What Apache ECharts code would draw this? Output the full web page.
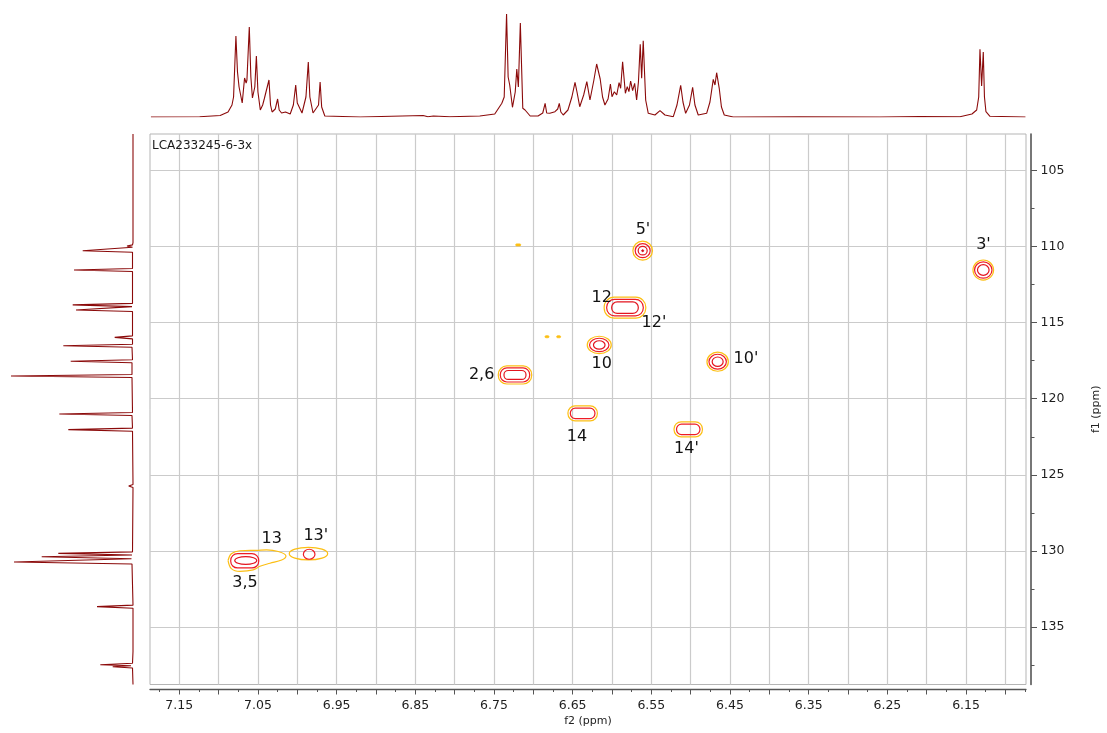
<!DOCTYPE html>
<html>
<head>
<meta charset="utf-8">
<title>HSQC LCA233245-6-3x</title>
<script src="https://cdn.jsdelivr.net/npm/echarts@6.0.0/dist/echarts.min.js"></script>
<style>
html,body{margin:0;padding:0;background:#ffffff;}
#chart{width:1107px;height:733px;}
</style>
</head>
<body>
<div id="chart"></div>
<script>
// ---------------- data ----------------
const sampleName = 'LCA233245-6-3x';
const f2Name = 'f2 (ppm)';
const f1Name = 'f1 (ppm)';

const f2TickLabels = ['7.15','7.05','6.95','6.85','6.75','6.65','6.55','6.45','6.35','6.25','6.15'];
const f1TickLabels = ['105','110','115','120','125','130','135'];

// 1H projection (f2 ppm, intensity)
const protonPpm = [7.186,7.124,7.098,7.088,7.083,7.081,7.078,7.076,7.074,7.070,7.067,7.065,7.064,7.061,7.059,7.057,7.054,7.052,7.050,7.047,7.044,7.042,7.040,7.036,7.034,7.032,7.028,7.025,7.023,7.020,7.015,7.009,7.005,7.002,7.000,6.994,6.989,6.986,6.984,6.980,6.973,6.971,6.969,6.965,6.920,6.840,6.834,6.827,6.806,6.768,6.749,6.740,6.737,6.734,6.732,6.730,6.7265,6.723,6.721,6.719,6.7165,6.7134,6.7105,6.704,6.694,6.688,6.685,6.683,6.679,6.6725,6.669,6.667,6.665,6.662,6.656,6.651,6.647,6.6445,6.641,6.636,6.632,6.628,6.623,6.6195,6.615,6.612,6.609,6.605,6.602,6.600,6.597,6.594,6.591,6.589,6.5865,6.583,6.5806,6.5785,6.5763,6.5738,6.5712,6.5687,6.5664,6.5641,6.5623,6.5603,6.5572,6.5539,6.5454,6.539,6.5327,6.5221,6.5174,6.5127,6.5098,6.5064,6.5015,6.4975,6.4946,6.4904,6.4797,6.4755,6.4713,6.4691,6.467,6.4637,6.4609,6.4573,6.4459,6.3611,6.2594,6.2086,6.1577,6.1425,6.1365,6.1339,6.1323,6.1302,6.1281,6.1266,6.1247,6.1196,6.0745];
const protonInt = [0,0.3,1.5,5,12,20,81,45,30,14,39,34,37,90,40,19,30,61,25,7,12,18,17,37,12,5,8,18,7,4,5,3,12,32,14,4,20,55,20,4,12,35,10,1,0,1.5,0.3,1,0.3,1,3,13.7,20,103,40,32,9.7,25,48,30,94,8.7,7,1,1,4,13.7,4,3.7,5.3,8,13.7,5,2,7,20,34.7,25,10.3,22,35.3,17,37,53,38,20,12,18,33,20.3,25.3,22,34.3,28.7,55.3,23.7,30.3,25.3,36,26.3,33.7,17,35,72.7,38.7,76.3,17,3.7,2,6.3,2,0.3,12,31.7,15,3.7,12,29.7,12,2,3.7,15,37.7,32,44.3,28.7,10,2,0,0.3,0,0.5,0.3,3,7,20,67.7,31,65,20,5.3,0.7,0];

// 13C projection (f1 ppm, intensity)
const carbonPpm = [102.62,109.75,109.90,109.97,110.05,110.18,110.28,110.38,111.45,111.55,111.65,113.74,113.84,113.95,114.07,114.17,114.27,115.87,115.97,116.07,116.42,116.52,116.62,117.44,117.54,117.64,118.41,118.51,118.61,120.90,121.00,121.10,121.93,122.03,122.13,125.63,125.73,125.83,130.05,130.15,130.26,130.37,130.50,130.72,130.85,133.55,133.65,133.75,136.40,136.50,136.60,137.36,137.46,137.53,137.59,137.68,138.76];
const carbonInt = [0,0,0.5,6,0.5,0.5,50.3,0.5,0.5,59,0.5,0.5,60.3,1,1,57,0.5,0.5,18.3,0.5,0.5,69.7,1,0.5,62.3,1,1,122,1,0.5,73.7,1,0.5,64.7,0.5,0,4.3,0,0.5,74.7,1,91.3,1.5,119,1,0,36,0,0,2,0,0.5,32.7,2,20.3,0.5,0];

// 2D contours: centre (f2, f1), half extents (ppm), contour level
const contourF2 = [6.561,6.561,6.561,6.561,6.1281,6.1281,6.1281,6.5835,6.5835,6.5835,6.6162,6.6162,6.6162,6.4657,6.4657,6.4657,6.7233,6.7233,6.7233,6.6373,6.6373,6.5031,6.5031,6.9858,6.9849,7.0668,7.0655,6.7192,6.6826,6.6678];
const contourF1 = [110.28,110.28,110.28,110.28,111.55,111.55,111.55,114.02,114.02,114.02,116.47,116.47,116.47,117.57,117.57,117.57,118.44,118.44,118.44,120.96,120.96,122.01,122.01,130.17,130.21,130.64,130.62,109.90,115.93,115.93];
const contourHalfF2 = [0.01246,0.00953,0.00572,0.0013,0.0131,0.01106,0.00737,0.02644,0.02326,0.0169,0.01525,0.01233,0.00737,0.0136,0.01106,0.00699,0.02122,0.01868,0.01398,0.01868,0.01563,0.01805,0.01487,0.0244,0.00737,0.0178,0.0140,0.0032,0.0025,0.0025];
const contourHalfF1 = [0.624,0.46,0.28,0.066,0.657,0.538,0.348,0.689,0.545,0.381,0.571,0.44,0.276,0.624,0.492,0.309,0.591,0.46,0.295,0.492,0.341,0.492,0.341,0.414,0.328,0.47,0.26,0.066,0.066,0.066];
const contourLevel = [0,1,2,3,0,1,2,0,1,2,0,1,2,0,1,2,0,1,2,0,1,0,1,0,1,1,2,0,0,0];

// merged lowest contour of 3,5 / 13
const blobF2 = [7.0880,7.0838,7.0729,7.0516,7.0390,7.0242,7.0144,7.0199,7.0347,7.0474,7.0560,7.0729,7.0838,7.0880];
const blobF1 = [130.62,130.18,129.98,129.95,129.92,130.03,130.32,130.59,130.80,131.00,131.24,131.33,131.15,130.62];

// assignment labels
const peakLabels = ["5'","3'","12","12'","10","10'","2,6","14","14'","13","13'","3,5"];
const peakLabelF2 = [6.5607,6.1279,6.6131,6.5467,6.6131,6.4297,6.7657,6.6445,6.5054,7.0326,6.9765,7.0665];
const peakLabelF1 = [108.92,109.90,113.38,114.99,117.72,117.39,118.44,122.48,123.30,129.21,129.01,132.10];

// ---------------- layout / style ----------------
const FONT = 'DejaVu Sans';
const PL = 150, PR = 1026, PT = 134, PB = 684.5;
const F2_LEFT = 7.1872, F2_RIGHT = 6.0738;
const F1_TOP = 102.62, F1_BOTTOM = 138.76;
const F2_MINOR = [6.075, 7.175], F2_MINOR_STEP = 0.025;
const F2_MAJOR = [6.10, 7.15], F2_MAJOR_STEP = 0.05;
const F1_MINOR = [105, 137.5], F1_MINOR_STEP = 2.5;
const F1_MAJOR = [105, 135], F1_MAJOR_STEP = 5;
const AXIS_COLOR = '#555555';
const GRID_COLOR = '#cbcbcb';
const SPEC_COLOR = '#8b0a0a';
const LEVEL_COLORS = ['#fcbf14', '#ee1c25', '#e3141e', '#d0101a'];
const X_OFF = 4.5, Y_OFF = 5;

function X(v) { return PL + (F2_LEFT - v) / (F2_LEFT - F2_RIGHT) * (PR - PL); }
function Y(v) { return PT + (v - F1_TOP) / (F1_BOTTOM - F1_TOP) * (PB - PT); }

const grids = [
  { left: PL, top: PT, width: PR - PL, height: PB - PT, show: true, borderColor: '#b5b5b5', borderWidth: 1, backgroundColor: 'transparent' },
  { left: X(F2_MINOR[1]), width: X(F2_MINOR[0]) - X(F2_MINOR[1]), top: PT, height: PB - PT },
  { left: X(F2_MAJOR[1]), width: X(F2_MAJOR[0]) - X(F2_MAJOR[1]), top: PT, height: PB - PT },
  { left: PL, width: PR - PL, top: Y(F1_MINOR[0]), height: Y(F1_MINOR[1]) - Y(F1_MINOR[0]) },
  { left: PL, width: PR - PL, top: Y(F1_MAJOR[0]), height: Y(F1_MAJOR[1]) - Y(F1_MAJOR[0]) },
  { left: PL, width: PR - PL, top: 0, height: 117 },
  { left: 0, width: 133, top: PT, height: PB - PT }
].map(g => Object.assign({ containLabel: false, outerBoundsMode: 'none' }, g));

const hidden = (gi, min, max, extra) => Object.assign({ gridIndex: gi, type: 'value', min: min, max: max, show: false, axisLine: { onZero: false } }, extra || {});
const nameStyle = { fontFamily: FONT, fontSize: 11, color: '#222' };
const tickStyle = { fontFamily: FONT, fontSize: 12.5, color: '#1e1e1e' };

const xAxes = [
  { gridIndex: 0, type: 'value', min: F2_RIGHT, max: F2_LEFT, inverse: true, position: 'bottom', offset: X_OFF,
    axisLine: { show: true, onZero: false, lineStyle: { color: AXIS_COLOR, width: 1.3 } },
    axisTick: { show: false }, axisLabel: { show: false }, splitLine: { show: false },
    name: f2Name, nameLocation: 'middle', nameGap: 27, nameTextStyle: nameStyle },
  { gridIndex: 1, type: 'value', min: F2_MINOR[0], max: F2_MINOR[1], interval: F2_MINOR_STEP, inverse: true, position: 'bottom', offset: X_OFF,
    axisLine: { show: false, onZero: false }, axisTick: { show: true, length: 3, lineStyle: { color: AXIS_COLOR, width: 1 } },
    axisLabel: { show: false }, splitLine: { show: false } },
  { gridIndex: 2, type: 'value', min: F2_MAJOR[0], max: F2_MAJOR[1], interval: F2_MAJOR_STEP, inverse: true, position: 'bottom', offset: X_OFF,
    axisLine: { show: false, onZero: false }, axisTick: { show: true, length: 5.5, lineStyle: { color: AXIS_COLOR, width: 1 } },
    axisLabel: Object.assign({ show: true, margin: 10, formatter: v => { const s = v.toFixed(2); return f2TickLabels.includes(s) ? s : ''; } }, tickStyle),
    splitLine: { show: true, lineStyle: { color: GRID_COLOR, width: 1.2 } } },
  hidden(3, 0, 1),
  hidden(4, 0, 1),
  hidden(5, F2_RIGHT, F2_LEFT, { inverse: true }),
  hidden(6, 0, 133, { inverse: true })
];

const yAxes = [
  { gridIndex: 0, type: 'value', min: F1_TOP, max: F1_BOTTOM, inverse: true, position: 'right', offset: Y_OFF,
    axisLine: { show: true, onZero: false, lineStyle: { color: AXIS_COLOR, width: 1.6 } },
    axisTick: { show: false }, axisLabel: { show: false }, splitLine: { show: false },
    name: f1Name, nameLocation: 'middle', nameRotate: 90, nameGap: 60, nameTextStyle: nameStyle },
  hidden(1, 0, 1),
  hidden(2, 0, 1),
  { gridIndex: 3, type: 'value', min: F1_MINOR[0], max: F1_MINOR[1], interval: F1_MINOR_STEP, inverse: true, position: 'right', offset: Y_OFF,
    axisLine: { show: false, onZero: false }, axisTick: { show: true, length: 3.5, lineStyle: { color: AXIS_COLOR, width: 1 } },
    axisLabel: { show: false }, splitLine: { show: false } },
  { gridIndex: 4, type: 'value', min: F1_MAJOR[0], max: F1_MAJOR[1], interval: F1_MAJOR_STEP, inverse: true, position: 'right', offset: Y_OFF,
    axisLine: { show: false, onZero: false }, axisTick: { show: true, length: 6, lineStyle: { color: AXIS_COLOR, width: 1 } },
    axisLabel: Object.assign({ show: true, margin: 9.5, formatter: v => { const s = String(Math.round(v)); return f1TickLabels.includes(s) ? s : ''; } }, tickStyle),
    splitLine: { show: true, lineStyle: { color: GRID_COLOR, width: 1.2 } } },
  hidden(5, 0, 117),
  hidden(6, F1_TOP, F1_BOTTOM, { inverse: true })
];

const contourData = contourF2.map((v, i) => [v, contourF1[i], contourHalfF2[i], contourHalfF1[i], contourLevel[i]]);
const labelData = peakLabels.map((t, i) => [peakLabelF2[i], peakLabelF1[i], i]);

const option = {
  animation: false,
  backgroundColor: '#ffffff',
  textStyle: { fontFamily: FONT },
  title: { text: sampleName, left: PL + 2, top: PT + 5.5, padding: 0,
    textStyle: { fontFamily: FONT, fontSize: 12, fontWeight: 'normal', color: '#1a1a1a' } },
  grid: grids,
  xAxis: xAxes,
  yAxis: yAxes,
  series: [
    { type: 'line', xAxisIndex: 5, yAxisIndex: 5, data: protonPpm.map((p, i) => [p, protonInt[i]]),
      showSymbol: false, symbol: 'none', lineStyle: { color: SPEC_COLOR, width: 1.1 }, clip: true, silent: true },
    { type: 'line', xAxisIndex: 6, yAxisIndex: 6, data: carbonPpm.map((p, i) => [carbonInt[i], p]),
      showSymbol: false, symbol: 'none', lineStyle: { color: SPEC_COLOR, width: 1.1 }, clip: true, silent: true },
    { type: 'line', xAxisIndex: 0, yAxisIndex: 0, data: blobF2.map((p, i) => [p, blobF1[i]]),
      showSymbol: false, symbol: 'none', smooth: 0.35, lineStyle: { color: LEVEL_COLORS[0], width: 1.2 }, silent: true, z: 3 },
    { type: 'custom', xAxisIndex: 0, yAxisIndex: 0, data: contourData, silent: true, z: 4,
      encode: { x: 0, y: 1 },
      renderItem: function (params, api) {
        const x = api.value(0), y = api.value(1), hw = api.value(2), hh = api.value(3), lv = api.value(4);
        const p0 = api.coord([x + hw, y - hh]);
        const p1 = api.coord([x - hw, y + hh]);
        const cx = (p0[0] + p1[0]) / 2, cy = (p0[1] + p1[1]) / 2;
        const rx = Math.abs(p1[0] - p0[0]) / 2, ry = Math.abs(p1[1] - p0[1]) / 2;
        const col = LEVEL_COLORS[lv];
        const small = ry < 1.6;
        const style = { fill: (lv === 3 || small) ? col : 'none', stroke: col, lineWidth: small ? 0.8 : 1.2 };
        const ratio = rx / ry;
        if (ratio > 1.5 && ratio < 2.6) {
          return { type: 'rect', shape: { x: cx - rx, y: cy - ry, width: 2 * rx, height: 2 * ry, r: ry * 0.95 }, style: style };
        }
        return { type: 'ellipse', shape: { cx: cx, cy: cy, rx: rx, ry: ry }, style: style };
      } },
    { type: 'custom', xAxisIndex: 0, yAxisIndex: 0, data: labelData, silent: true, z: 6,
      encode: { x: 0, y: 1 },
      renderItem: function (params, api) {
        const c = api.coord([api.value(0), api.value(1)]);
        return { type: 'text', x: c[0], y: c[1],
          style: { text: peakLabels[api.value(2)], fontFamily: FONT, fontSize: 16, fill: '#111111', align: 'center', verticalAlign: 'middle' } };
      } }
  ]
};

const chart = echarts.init(document.getElementById('chart'), null, { renderer: 'canvas' });
chart.setOption(option);
</script>
</body>
</html>
